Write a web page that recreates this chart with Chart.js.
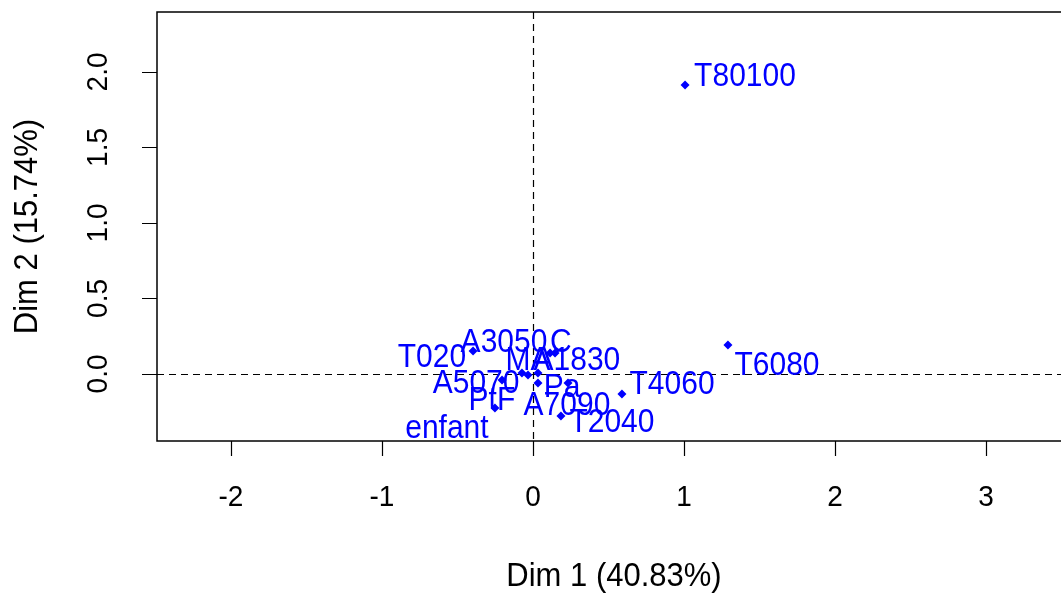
<!DOCTYPE html>
<html>
<head>
<meta charset="utf-8">
<script src="https://cdn.jsdelivr.net/npm/chart.js@4.4.1/dist/chart.umd.min.js"></script>
<style>
  html, body { margin: 0; padding: 0; background: #fff; overflow: hidden; }
  canvas { display: block; }
</style>
</head>
<body>
<canvas id="mca" width="1080" height="597"></canvas>
<script>
// coordonnées des modalités (Dim 1, Dim 2)
const names = ['T80100', 'T6080', 'T4060', 'T2040', 'T020', 'A3050', 'C', 'MA', 'A1830', 'A5070', 'PtF', 'Pa', 'A7090', 'enfant'];
const dim1 = [1.007, 1.291, 0.589, 0.185, -0.397, 0.113, 0.146, -0.073, 0.033, -0.033, -0.205, 0.033, 0.232, -0.252];
const dim2 = [1.914, 0.192, -0.132, -0.278, 0.152, 0.139, 0.139, 0.007, 0.007, -0.007, -0.040, -0.060, -0.060, -0.225];
// où poser chaque étiquette (centre x / ligne de base), en unités des axes
const labelX = [1.404, 1.616, 0.921, 0.523, -0.669, -0.192, 0.185, -0.033, 0.291, -0.377, -0.272, 0.192, 0.225, -0.570];
const labelY = [1.907, -0.007, -0.132, -0.384, 0.046, 0.146, 0.146, 0.026, 0.026, -0.126, -0.238, -0.152, -0.272, -0.424];

const xTicks = [-2, -1, 0, 1, 2, 3];
const yTicks = [0, 0.5, 1, 1.5, 2];
const xTickLabels = ['-2', '-1', '0', '1', '2', '3'];
const yTickLabels = ['0.0', '0.5', '1.0', '1.5', '2.0'];
const xTitle = 'Dim 1 (40.83%)';
const yTitle = 'Dim 2 (15.74%)';

const FONT = '"Liberation Sans", Arial, sans-serif';

// texte légèrement étiré en hauteur, comme le png de R
function tallText(ctx, txt, px, py, sy) {
    ctx.save();
    ctx.translate(px, py);
    ctx.scale(1, sy);
    ctx.fillText(txt, 0, 0);
    ctx.restore();
}

const rPlot = {
    id: 'rPlot',
    beforeDatasetsDraw(chart) {
        const { ctx, chartArea: a, scales: { x, y } } = chart;
        ctx.save();
        ctx.strokeStyle = '#000';
        ctx.lineWidth = 1.2;
        ctx.setLineDash([7, 5]);
        const x0 = Math.round(x.getPixelForValue(0)) + 0.5;
        const y0 = Math.round(y.getPixelForValue(0)) + 0.5;
        ctx.beginPath();
        ctx.moveTo(x0, a.top); ctx.lineTo(x0, a.bottom);
        ctx.moveTo(a.left, y0); ctx.lineTo(a.right, y0);
        ctx.stroke();
        ctx.restore();
    },
    afterDatasetsDraw(chart) {
        const { ctx, chartArea: a, scales: { x, y } } = chart;
        ctx.save();
        // cadre
        ctx.strokeStyle = '#000';
        ctx.lineWidth = 1.5;
        ctx.strokeRect(a.left, a.top, a.right - a.left, a.bottom - a.top);

        // graduations
        ctx.beginPath();
        xTicks.forEach(v => {
            const px = Math.round(x.getPixelForValue(v)) + 0.5;
            ctx.moveTo(px, a.bottom); ctx.lineTo(px, a.bottom + 15);
        });
        yTicks.forEach(v => {
            const py = Math.round(y.getPixelForValue(v)) + 0.5;
            ctx.moveTo(a.left, py); ctx.lineTo(a.left - 15, py);
        });
        ctx.lineWidth = 1.2;
        ctx.stroke();

        ctx.fillStyle = '#000';
        ctx.font = '28px ' + FONT;
        ctx.textAlign = 'center';
        ctx.textBaseline = 'middle';
        xTicks.forEach((v, i) => {
            tallText(ctx, xTickLabels[i], x.getPixelForValue(v), 498, 1.08);
        });
        yTicks.forEach((v, i) => {
            ctx.save();
            ctx.translate(99, y.getPixelForValue(v));
            ctx.rotate(-Math.PI / 2);
            ctx.scale(1, 1.08);
            ctx.fillText(yTickLabels[i], 0, 0);
            ctx.restore();
        });

        // titres des axes
        ctx.font = '31px ' + FONT;
        tallText(ctx, xTitle, (a.left + a.right) / 2, 577, 1.06);
        ctx.save();
        ctx.translate(28, (a.top + a.bottom) / 2);
        ctx.rotate(-Math.PI / 2);
        ctx.scale(1, 1.06);
        ctx.fillText(yTitle, 0, 0);
        ctx.restore();

        // étiquettes des modalités
        ctx.fillStyle = '#0000ff';
        ctx.font = '30px ' + FONT;
        ctx.textBaseline = 'alphabetic';
        names.forEach((n, i) => {
            tallText(ctx, n, x.getPixelForValue(labelX[i]), y.getPixelForValue(labelY[i]), 1.1);
        });
        ctx.restore();
    }
};

new Chart(document.getElementById('mca'), {
    type: 'scatter',
    data: {
        datasets: [{
            data: dim1.map((v, i) => ({ x: v, y: dim2[i] })),
            backgroundColor: '#0000ff',
            borderColor: '#0000ff',
            pointStyle: 'rectRot',
            pointRadius: 4.5,
            borderWidth: 0
        }]
    },
    options: {
        responsive: false,
        animation: false,
        devicePixelRatio: 1,
        layout: { padding: { left: 157, top: 12, right: 9, bottom: 156 } },
        scales: {
            x: { type: 'linear', display: false, min: -2.490, max: 3.563 },
            y: { type: 'linear', display: false, min: -0.444, max: 2.397 }
        },
        plugins: {
            legend: { display: false },
            tooltip: { enabled: false }
        }
    },
    plugins: [rPlot]
});
</script>
</body>
</html>
